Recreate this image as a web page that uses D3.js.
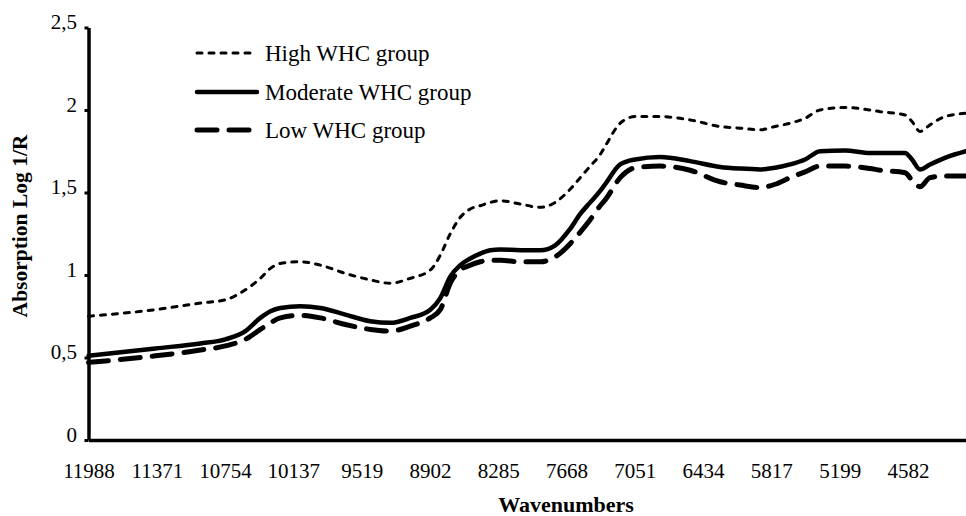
<!DOCTYPE html>
<html>
<head>
<meta charset="utf-8">
<script src="https://cdn.jsdelivr.net/npm/d3@7/dist/d3.min.js"></script>
<style>
  html, body { margin: 0; padding: 0; background: #fff; }
  svg text { font-family: "Liberation Serif", "Times New Roman", "DejaVu Serif", serif !important; fill: #000; }
</style>
</head>
<body>
<svg id="chart" width="966" height="516"></svg>
<script>
// NIR spectra, mean absorption per WHC group
const wavenumbers = [11988, 11383, 10976, 10751, 10570, 10435, 10344, 10254, 10073, 9893,
  9667, 9441, 9260, 9080, 8899, 8809, 8719, 8628, 8538, 8448,
  8357, 8267, 8086, 7906, 7770, 7635, 7544, 7454, 7364, 7319,
  7183, 7048, 6822, 6551, 6280, 6099, 5919, 5783, 5648, 5512,
  5377, 5151, 4925, 4835, 4609, 4546, 4474, 4383, 4248, 4058];

const highWHC = [0.75, 0.79, 0.83, 0.85, 0.91, 0.98, 1.04, 1.07, 1.08, 1.06,
  1.01, 0.97, 0.95, 0.98, 1.03, 1.12, 1.25, 1.35, 1.40, 1.42,
  1.44, 1.45, 1.43, 1.41, 1.44, 1.52, 1.59, 1.66, 1.73, 1.78,
  1.92, 1.96, 1.96, 1.94, 1.90, 1.89, 1.88, 1.90, 1.92, 1.95,
  2.00, 2.015, 2.00, 1.99, 1.97, 1.93, 1.87, 1.91, 1.96, 1.98];

const moderateWHC = [0.51, 0.555, 0.585, 0.61, 0.66, 0.74, 0.78, 0.80, 0.81, 0.80,
  0.76, 0.72, 0.71, 0.74, 0.79, 0.86, 0.99, 1.06, 1.10, 1.13,
  1.15, 1.155, 1.15, 1.15, 1.18, 1.28, 1.37, 1.44, 1.51, 1.55,
  1.67, 1.70, 1.715, 1.69, 1.655, 1.645, 1.64, 1.65, 1.67, 1.70,
  1.75, 1.755, 1.74, 1.74, 1.74, 1.70, 1.64, 1.67, 1.71, 1.75];

const lowWHC = [0.47, 0.51, 0.545, 0.57, 0.61, 0.67, 0.71, 0.74, 0.755, 0.74,
  0.70, 0.67, 0.66, 0.69, 0.74, 0.79, 0.95, 1.03, 1.06, 1.08,
  1.09, 1.09, 1.08, 1.08, 1.11, 1.19, 1.26, 1.335, 1.42, 1.455,
  1.59, 1.65, 1.66, 1.635, 1.565, 1.545, 1.53, 1.55, 1.59, 1.625,
  1.66, 1.66, 1.645, 1.635, 1.62, 1.575, 1.535, 1.59, 1.60, 1.60];

const xTickLabels = [11988, 11371, 10754, 10137, 9519, 8902, 8285, 7668, 7051, 6434, 5817, 5199, 4582];
const yTickValues = [0, 0.5, 1, 1.5, 2, 2.5];

const seriesNames = ["High WHC group", "Moderate WHC group", "Low WHC group"];

const series = [
  { name: seriesNames[0], values: highWHC,     width: 3,   dash: "5,7" },
  { name: seriesNames[1], values: moderateWHC, width: 4.5, dash: null },
  { name: seriesNames[2], values: lowWHC,      width: 5,   dash: "20,12" }
];

const svg = d3.select("#chart");
const plot = { left: 88.5, right: 966, top: 27.5, bottom: 440 };

const x = d3.scaleLinear()
  .domain([wavenumbers[0], wavenumbers[wavenumbers.length - 1]])
  .range([plot.left, plot.right]);

const y = d3.scaleLinear()
  .domain([0, 2.5])
  .range([plot.bottom, plot.top]);

// spectra
const line = d3.line()
  .x((d, i) => x(wavenumbers[i]))
  .y(d => y(d))
  .curve(d3.curveMonotoneX);

svg.append("g")
  .selectAll("path")
  .data(series)
  .join("path")
  .attr("d", s => line(s.values))
  .attr("fill", "none")
  .attr("stroke", "#000")
  .attr("stroke-width", s => s.width)
  .attr("stroke-linecap", "round")
  .attr("stroke-linejoin", "round")
  .attr("stroke-dasharray", s => s.dash);

// axes
const xAxis = svg.append("g")
  .attr("transform", `translate(0,${plot.bottom})`)
  .call(d3.axisBottom(x)
    .tickValues(xTickLabels)
    .tickFormat(d => String(d))
    .tickSize(0)
    .tickPadding(23));
xAxis.select(".domain").attr("stroke", "#000").attr("stroke-width", 3.5);
xAxis.selectAll("text").attr("font-size", 21);

const yAxis = svg.append("g")
  .attr("transform", `translate(${plot.left},0)`)
  .call(d3.axisLeft(y)
    .tickValues(yTickValues)
    .tickFormat(d => String(d).replace(".", ","))
    .tickSize(4)
    .tickSizeOuter(0)
    .tickPadding(7.5));
yAxis.select(".domain").attr("stroke", "#000").attr("stroke-width", 3.5);
yAxis.selectAll(".tick line").attr("stroke", "#000").attr("stroke-width", 3);
yAxis.selectAll("text").attr("font-size", 21).attr("dy", "0.05em");

// axis titles
svg.append("text")
  .attr("x", 566).attr("y", 512)
  .attr("text-anchor", "middle")
  .attr("font-size", 22).attr("font-weight", "bold")
  .text("Wavenumbers");

svg.append("text")
  .attr("transform", "translate(27,226) rotate(-90)")
  .attr("text-anchor", "middle")
  .attr("font-size", 21.5).attr("font-weight", "bold")
  .text("Absorption Log 1/R");

// legend
const legend = svg.append("g");
const legendRows = [53, 92, 130];
series.forEach((s, i) => {
  const row = legend.append("g").attr("transform", `translate(0,${legendRows[i]})`);
  row.append("line")
    .attr("x1", 197).attr("x2", 257).attr("y1", 0).attr("y2", 0)
    .attr("stroke", "#000")
    .attr("stroke-width", s.width)
    .attr("stroke-linecap", "round")
    .attr("stroke-dasharray", s.dash);
  row.append("text")
    .attr("x", 265).attr("y", 0).attr("dy", "0.33em")
    .attr("font-size", 23)
    .text(s.name);
});
</script>
</body>
</html>
